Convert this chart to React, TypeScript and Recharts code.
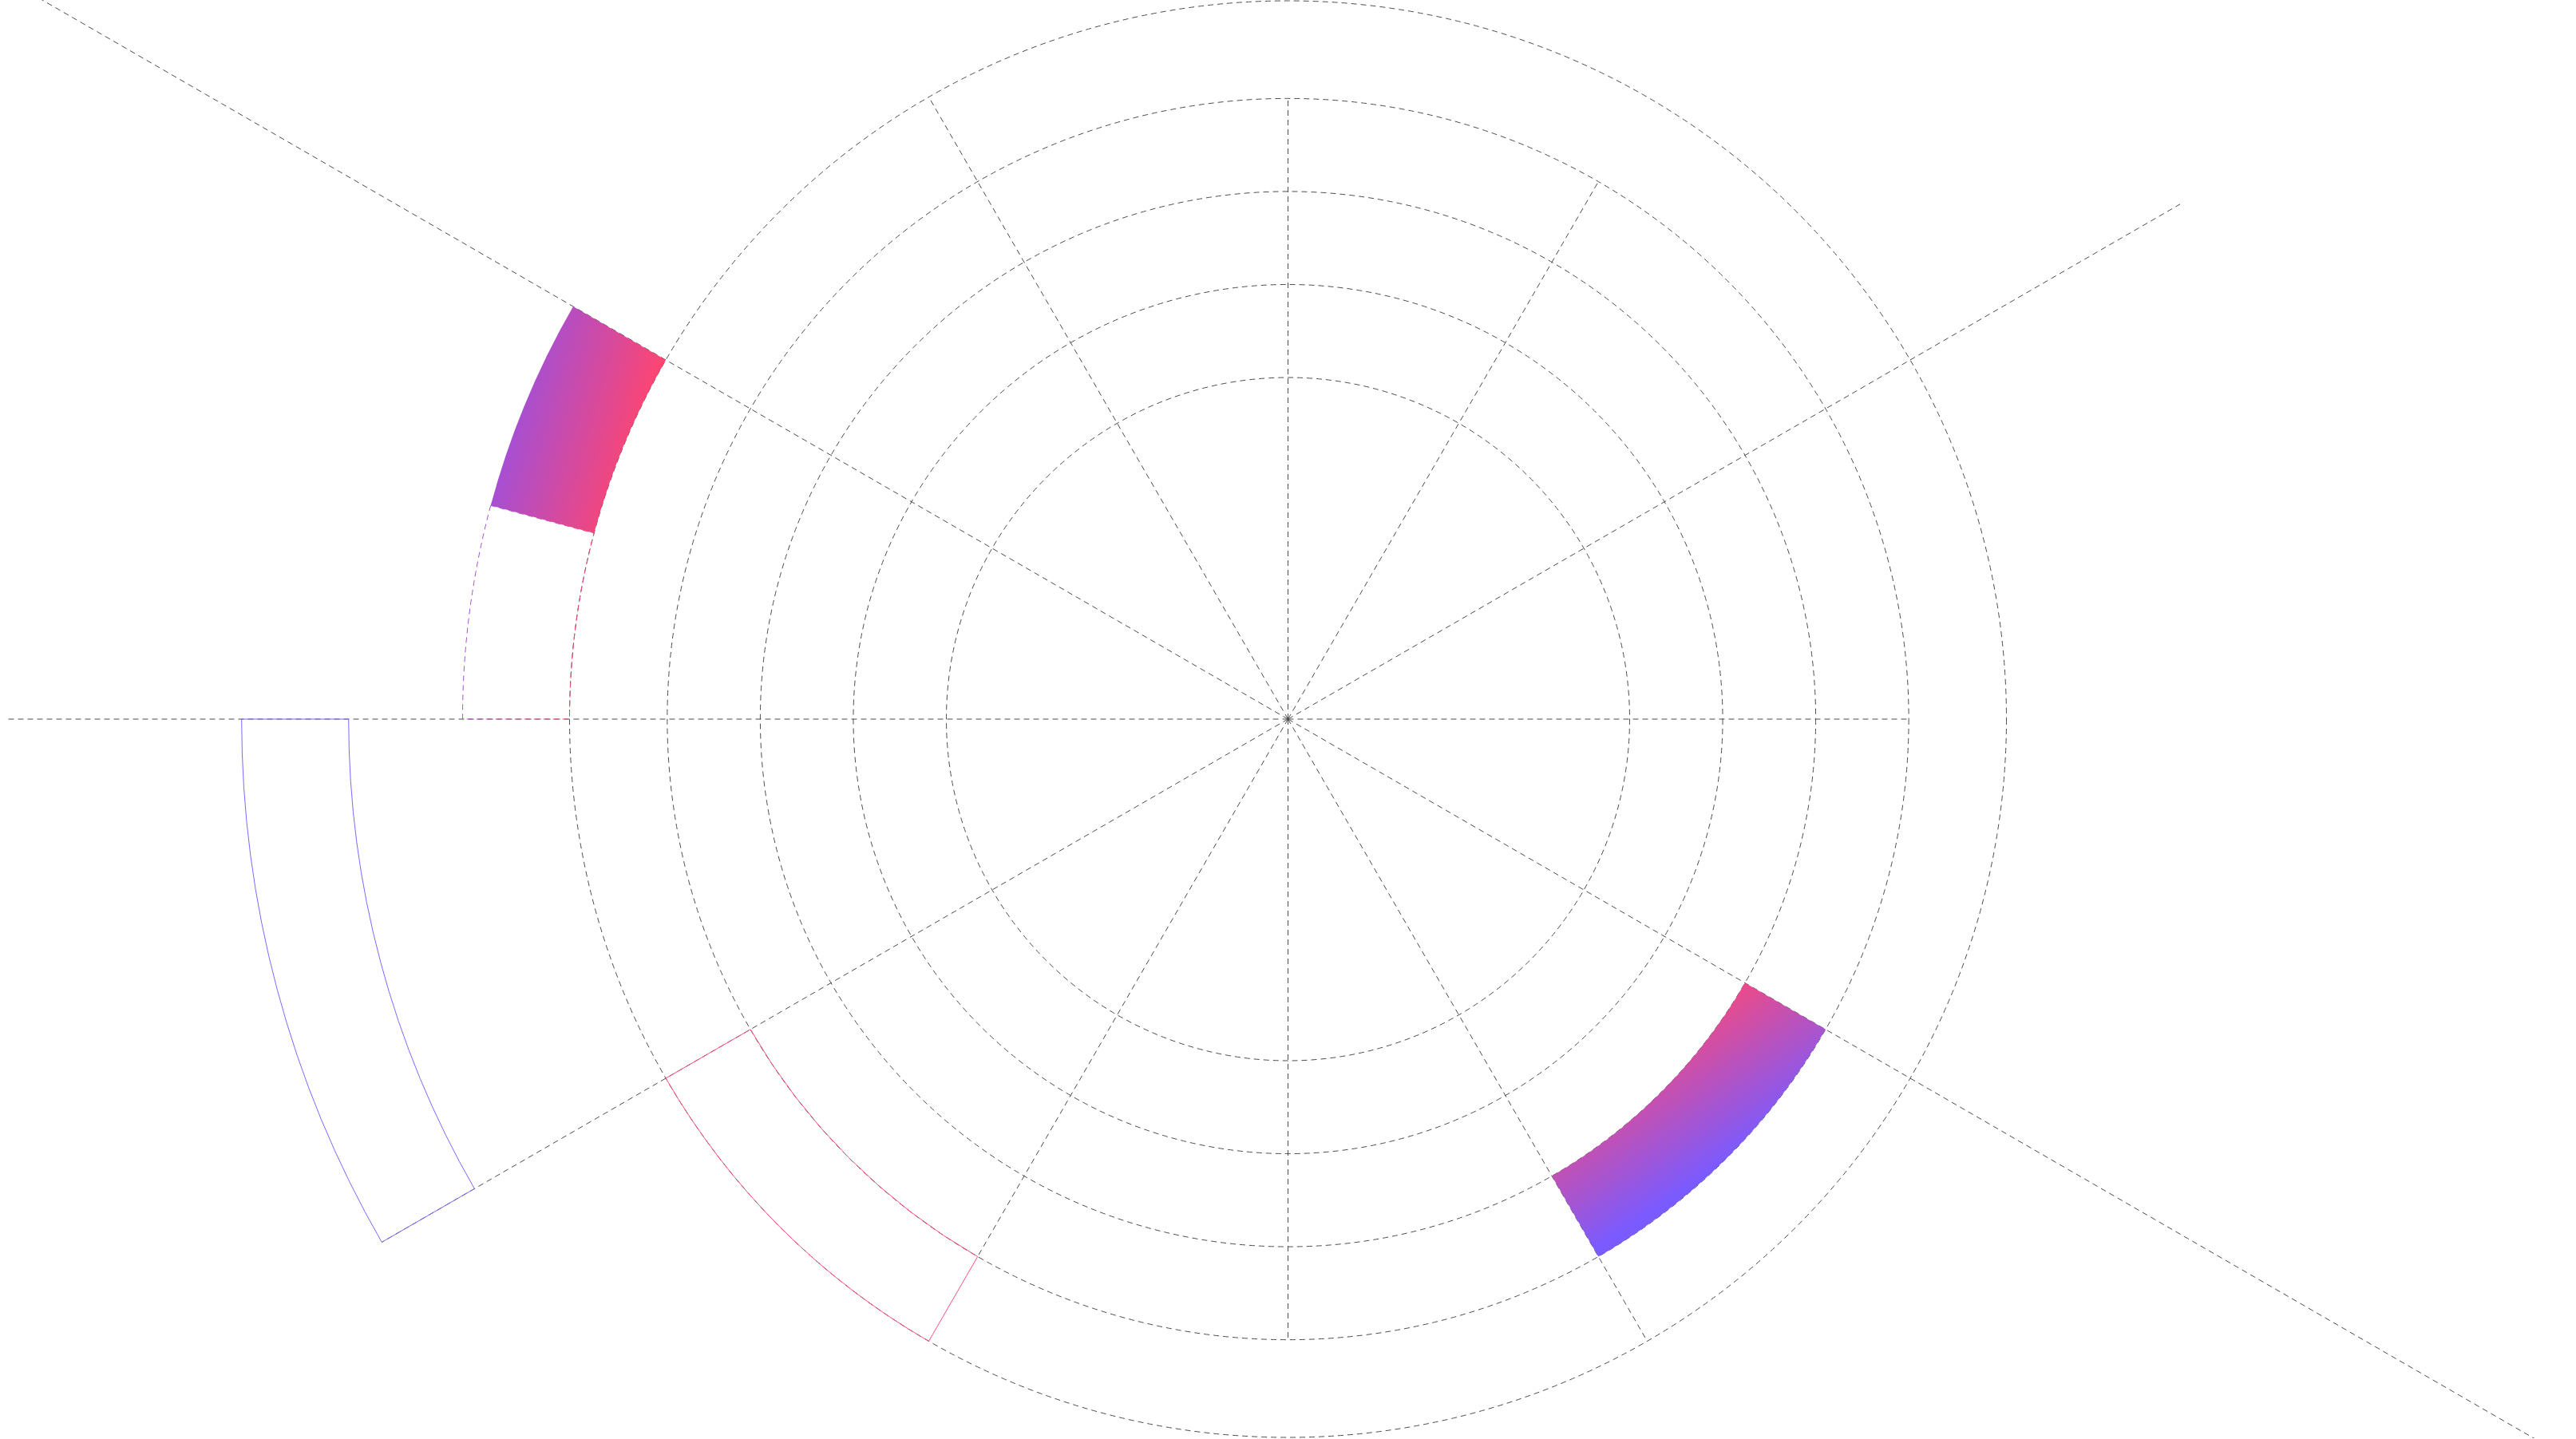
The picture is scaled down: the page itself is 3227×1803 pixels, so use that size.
import React from 'react';
import {
  RadialBarChart,
  RadialBar,
  PolarGrid,
  PolarAngleAxis,
  PolarRadiusAxis,
  Cell,
} from 'recharts';

// ---------- data ----------
// 12 angular categories of 30° each (counter-clockwise from 3 o'clock)
const sectorNames = ['A', 'B', 'C', 'D', 'E', 'F', 'G', 'H', 'I', 'J', 'K', 'L'];
// 24 angular categories of 15° each
const halfSectorNames = [
  'a1', 'a2', 'b1', 'b2', 'c1', 'c2', 'd1', 'd2', 'e1', 'e2', 'f1', 'f2',
  'g1', 'g2', 'h1', 'h2', 'i1', 'i2', 'j1', 'j2', 'k1', 'k2', 'l1', 'l2',
];

// radius axis
const radiusDomainMax = 162;
const radiusTicks = [0, 20, 40, 60, 81];

// guide spokes (one per 30° category, drawn along its start edge)
const spokeLengths = [60, 148, 60, 60, 81, 250, 202, 151.5, 60, 60, 81, 250];

// wide bars (30°): radial range from..to
const wideFrom: (number | null)[] = [null, null, null, null, null, null, 128.5, 60, null, null, 40, null];
const wideTo: (number | null)[] = [null, null, null, null, null, null, 151.5, 81, null, null, 60, null];

// half bars (15°)
const halfFrom: (number | null)[] = [
  null, null, null, null, null, null, null, null, null, null, 81, 81,
  null, null, null, null, null, null, null, null, null, null, null, null,
];
const halfTo: (number | null)[] = [
  null, null, null, null, null, null, null, null, null, null, 104, 104,
  null, null, null, null, null, null, null, null, null, null, null, null,
];

// ---------- tables ----------
const spokeRows = sectorNames.map((name, i) => ({ name, spoke: spokeLengths[i] }));
const wideRows = sectorNames.map((name, i) => ({
  name,
  base: wideFrom[i] ?? 0,
  value: wideFrom[i] != null && wideTo[i] != null ? (wideTo[i] as number) - (wideFrom[i] as number) : 0,
}));
const halfRows = halfSectorNames.map((name, i) => ({
  name,
  base: halfFrom[i] ?? 0,
  value: halfFrom[i] != null && halfTo[i] != null ? (halfTo[i] as number) - (halfFrom[i] as number) : 0,
}));

// ---------- styles ----------
const W = 3227;
const H = 1802;
const INNER = 428; // radius of value 0
const GRID_OUTER = 900; // radius of value 81
const OUTER = INNER + ((GRID_OUTER - INNER) * radiusDomainMax) / 81;
const GRID = '#4d4d4d';
const DASH = '7 5';

type CellStyle = { fill: string; stroke: string; strokeWidth?: number; strokeDasharray?: string };
const hidden: CellStyle = { fill: 'none', stroke: 'none' };
const wideStyle: Record<number, CellStyle> = {
  6: { fill: 'none', stroke: '#7c68ff', strokeWidth: 1 },
  7: { fill: 'none', stroke: '#ff4f80', strokeWidth: 1 },
  10: { fill: 'url(#gradLowerRight)', stroke: 'none' },
};
const halfStyle: Record<number, CellStyle> = {
  10: { fill: 'url(#gradUpperLeft)', stroke: 'none' },
  11: { fill: 'none', stroke: 'url(#gradUpperLeft)', strokeWidth: 1, strokeDasharray: DASH },
};

const common = {
  width: W,
  height: H,
  margin: { top: 0, right: 0, bottom: 0, left: 0 },
  innerRadius: INNER,
  outerRadius: OUTER,
  layout: 'centric' as const,
  barCategoryGap: 0,
  barGap: 0,
};

const layer: React.CSSProperties = { position: 'absolute', left: 0, top: 0 };

const Spoke = (p: any) => {
  const a = (-p.startAngle * Math.PI) / 180;
  return (
    <line
      x1={p.cx}
      y1={p.cy}
      x2={p.cx + p.outerRadius * Math.cos(a)}
      y2={p.cy + p.outerRadius * Math.sin(a)}
      stroke={GRID}
      strokeWidth={1}
      strokeDasharray={DASH}
    />
  );
};

const radiusAxis = (withTicks: boolean) => (
  <PolarRadiusAxis
    type="number"
    domain={[0, radiusDomainMax]}
    allowDataOverflow
    ticks={withTicks ? radiusTicks : undefined}
    tick={false}
    tickLine={false}
    axisLine={false}
  />
);

export default function App() {
  return (
    <div style={{ position: 'fixed', left: 0, top: 0, width: W, height: H, background: '#fff' }}>
      <div style={layer}>
        <RadialBarChart data={spokeRows} {...common} startAngle={30} endAngle={390}>
          <PolarGrid gridType="circle" radialLines={false} stroke={GRID} strokeDasharray={DASH} />
          <PolarAngleAxis type="category" dataKey="name" tick={false} tickLine={false} axisLine={false} />
          {radiusAxis(true)}
          <RadialBar dataKey="spoke" shape={Spoke} isAnimationActive={false} />
        </RadialBarChart>
      </div>
      <div style={layer}>
        <RadialBarChart data={wideRows} {...common} startAngle={30} endAngle={390}>
          <defs>
            <linearGradient id="gradLowerRight" x1="0.2" y1="0.32" x2="0.49" y2="0.75">
              <stop offset="0%" stopColor="#f04a84" />
              <stop offset="100%" stopColor="#7a5bff" />
            </linearGradient>
          </defs>
          <PolarAngleAxis type="category" dataKey="name" tick={false} tickLine={false} axisLine={false} />
          {radiusAxis(false)}
          <RadialBar dataKey="base" stackId="s" fill="none" stroke="none" isAnimationActive={false} />
          <RadialBar dataKey="value" stackId="s" isAnimationActive={false}>
            {wideRows.map((_, i) => (
              <Cell key={i} {...(wideStyle[i] ?? hidden)} />
            ))}
          </RadialBar>
        </RadialBarChart>
      </div>
      <div style={layer}>
        <RadialBarChart data={halfRows} {...common} startAngle={15} endAngle={375}>
          <defs>
            <linearGradient id="gradUpperLeft" x1="0.28" y1="0.1" x2="0.96" y2="0.35">
              <stop offset="0%" stopColor="#a64fd3" />
              <stop offset="100%" stopColor="#ff456f" />
            </linearGradient>
          </defs>
          <PolarAngleAxis type="category" dataKey="name" tick={false} tickLine={false} axisLine={false} />
          {radiusAxis(false)}
          <RadialBar dataKey="base" stackId="s" fill="none" stroke="none" isAnimationActive={false} />
          <RadialBar dataKey="value" stackId="s" isAnimationActive={false}>
            {halfRows.map((_, i) => (
              <Cell key={i} {...(halfStyle[i] ?? hidden)} />
            ))}
          </RadialBar>
        </RadialBarChart>
      </div>
    </div>
  );
}
